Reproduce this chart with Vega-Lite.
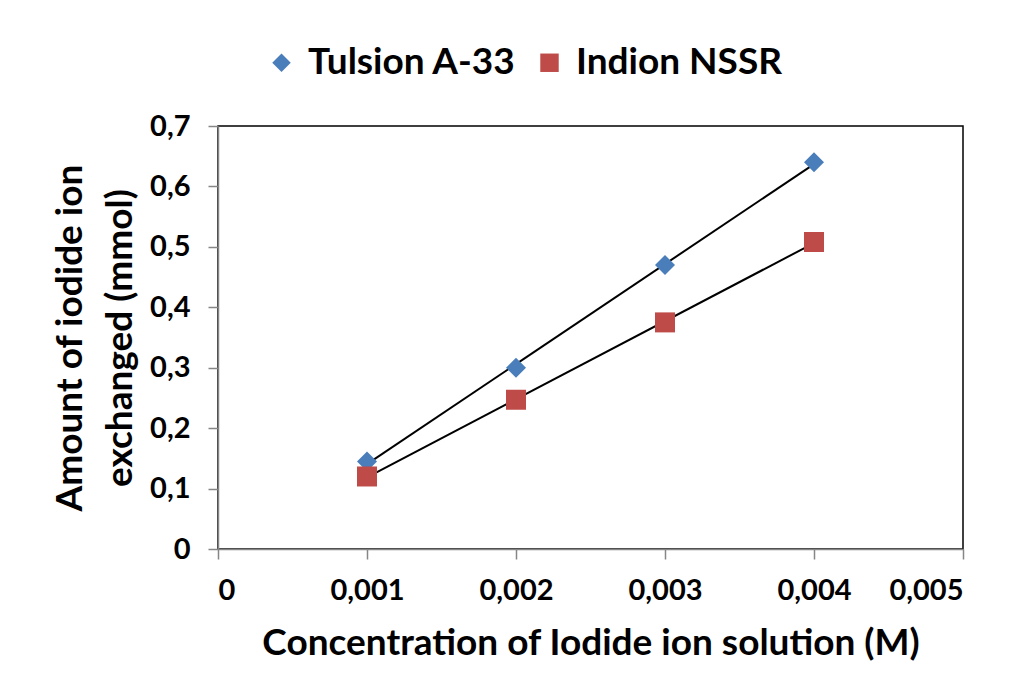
{
  "$schema": "https://vega.github.io/schema/vega-lite/v6.json",
  "width": 745,
  "height": 423,
  "autosize": {"type": "none"},
  "padding": {"left": 218, "top": 126, "right": 52, "bottom": 142},
  "background": "white",
  "config": {
    "font": "Lato",
    "view": {"stroke": "#000000", "strokeWidth": 1.5},
    "axis": {
      "grid": false,
      "domainColor": "#868686",
      "domainWidth": 1.5,
      "tickColor": "#868686",
      "tickWidth": 1.5,
      "tickSize": 10,
      "labelFont": "Lato",
      "labelFontWeight": "bold",
      "labelFontSize": 29,
      "labelColor": "#000000",
      "titleFont": "Lato",
      "titleFontWeight": "bold",
      "titleFontSize": 37,
      "titleColor": "#000000"
    }
  },
  "data": {
    "values": [
      {"conc": 0.001, "amount": 0.145, "series": "Tulsion A-33"},
      {"conc": 0.002, "amount": 0.300, "series": "Tulsion A-33"},
      {"conc": 0.003, "amount": 0.470, "series": "Tulsion A-33"},
      {"conc": 0.004, "amount": 0.640, "series": "Tulsion A-33"},
      {"conc": 0.001, "amount": 0.120, "series": "Indion NSSR"},
      {"conc": 0.002, "amount": 0.247, "series": "Indion NSSR"},
      {"conc": 0.003, "amount": 0.375, "series": "Indion NSSR"},
      {"conc": 0.004, "amount": 0.508, "series": "Indion NSSR"}
    ]
  },
  "layer": [
    {
      "transform": [{"regression": "amount", "on": "conc", "groupby": ["series"]}],
      "mark": {"type": "line", "color": "#000000", "strokeWidth": 2},
      "encoding": {
        "x": {"field": "conc", "type": "quantitative"},
        "y": {"field": "amount", "type": "quantitative"},
        "detail": {"field": "series"}
      }
    },
    {
      "mark": {"type": "point", "filled": true, "opacity": 1, "size": 400},
      "encoding": {
        "x": {
          "field": "conc",
          "type": "quantitative",
          "scale": {"domain": [0, 0.005], "nice": false},
          "axis": {
            "values": [0, 0.001, 0.002, 0.003, 0.004, 0.005],
            "labelExpr": "datum.value == 0 ? '0' : replace(format(datum.value, '.3f'), '.', ',')",
            "labelPadding": 17,
            "title": "Concentration of Iodide ion solution (M)",
            "titlePadding": 20
          }
        },
        "y": {
          "field": "amount",
          "type": "quantitative",
          "scale": {"domain": [0, 0.7], "nice": false},
          "axis": {
            "values": [0, 0.1, 0.2, 0.3, 0.4, 0.5, 0.6, 0.7],
            "labelExpr": "datum.value == 0 ? '0' : replace(format(datum.value, '.1f'), '.', ',')",
            "labelPadding": 18,
            "title": ["Amount of iodide ion", "exchanged (mmol)"],
            "titleLineHeight": 50,
            "titlePadding": 10
          }
        },
        "color": {
          "field": "series",
          "type": "nominal",
          "scale": {"domain": ["Tulsion A-33", "Indion NSSR"], "range": ["#4A7EBB", "#BE4B48"]},
          "legend": {
            "title": null,
            "orient": "none",
            "direction": "horizontal",
            "legendX": 45,
            "legendY": -82,
            "labelFont": "Lato",
            "labelFontWeight": "bold",
            "labelFontSize": 37,
            "labelColor": "#000000",
            "labelLimit": 0,
            "symbolSize": 340,
            "symbolStrokeWidth": 0,
            "columnPadding": 14,
            "labelOffset": 8
          }
        },
        "shape": {
          "field": "series",
          "type": "nominal",
          "scale": {"domain": ["Tulsion A-33", "Indion NSSR"], "range": ["diamond", "square"]}
        }
      }
    }
  ]
}
